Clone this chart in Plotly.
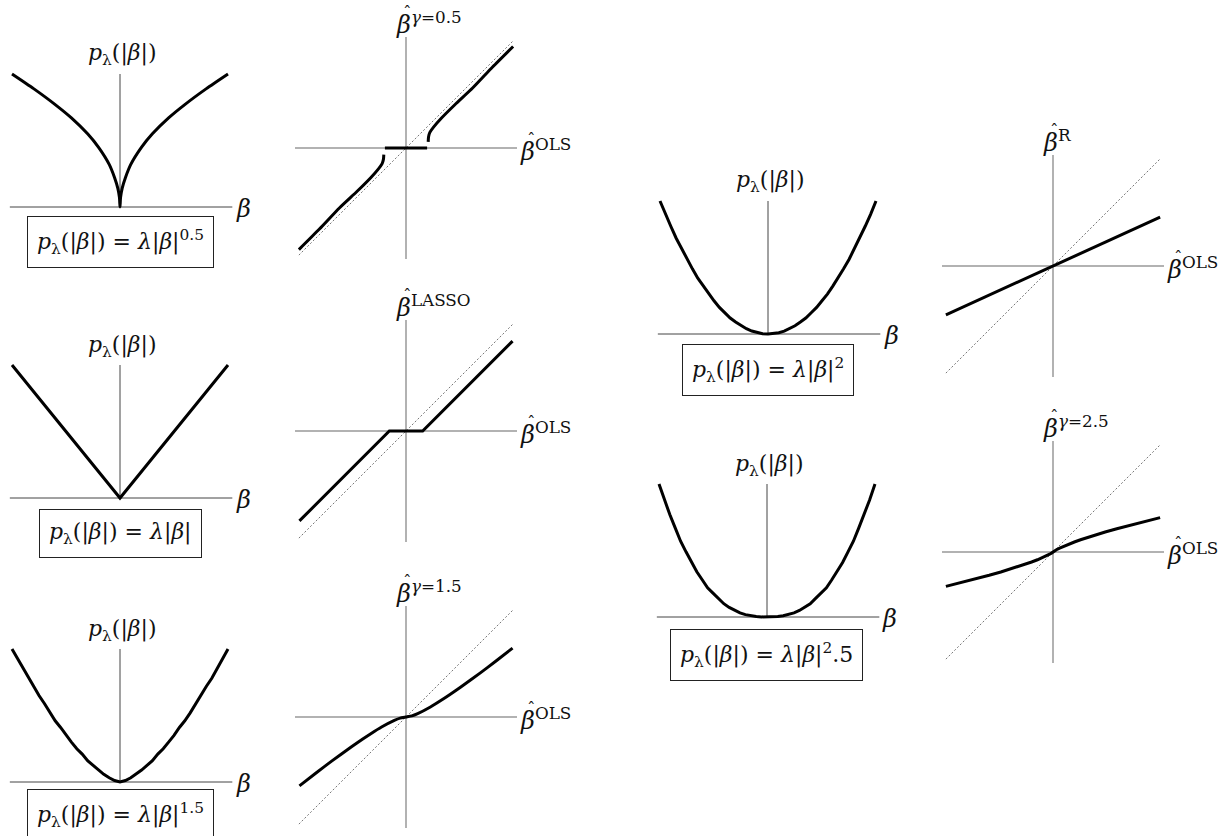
import plotly.graph_objects as go

# ---------------------------------------------------------------------------
# Penalty functions p_lambda(|beta|) (x: beta, y: penalty, normalised units)
# ---------------------------------------------------------------------------
PEN05_X = [-1.0, -0.8, -0.6, -0.45, -0.3, -0.2, -0.1, -0.05, -0.02, -0.005, 0.0,
           0.005, 0.02, 0.05, 0.1, 0.2, 0.3, 0.45, 0.6, 0.8, 1.0]
PEN05_Y = [1.0, 0.89, 0.77, 0.67, 0.55, 0.45, 0.32, 0.22, 0.14, 0.07, 0.0,
           0.07, 0.14, 0.22, 0.32, 0.45, 0.55, 0.67, 0.77, 0.89, 1.0]

PEN1_X = [-1.0, 0.0, 1.0]
PEN1_Y = [1.0, 0.0, 1.0]

PEN_GRID = [-1.0, -0.95, -0.9, -0.85, -0.8, -0.75, -0.7, -0.65, -0.6, -0.55, -0.5,
            -0.45, -0.4, -0.35, -0.3, -0.25, -0.2, -0.15, -0.1, -0.05, 0.0,
            0.05, 0.1, 0.15, 0.2, 0.25, 0.3, 0.35, 0.4, 0.45, 0.5,
            0.55, 0.6, 0.65, 0.7, 0.75, 0.8, 0.85, 0.9, 0.95, 1.0]
PEN15_Y = [1.0, 0.93, 0.85, 0.78, 0.72, 0.65, 0.59, 0.52, 0.46, 0.41, 0.35,
           0.30, 0.25, 0.21, 0.16, 0.125, 0.09, 0.058, 0.032, 0.011, 0.0,
           0.011, 0.032, 0.058, 0.09, 0.125, 0.16, 0.21, 0.25, 0.30, 0.35,
           0.41, 0.46, 0.52, 0.59, 0.65, 0.72, 0.78, 0.85, 0.93, 1.0]
PEN2_Y = [1.0, 0.90, 0.81, 0.72, 0.64, 0.56, 0.49, 0.42, 0.36, 0.30, 0.25,
          0.20, 0.16, 0.12, 0.09, 0.062, 0.04, 0.022, 0.01, 0.0025, 0.0,
          0.0025, 0.01, 0.022, 0.04, 0.062, 0.09, 0.12, 0.16, 0.20, 0.25,
          0.30, 0.36, 0.42, 0.49, 0.56, 0.64, 0.72, 0.81, 0.90, 1.0]
PEN25_Y = [1.0, 0.88, 0.77, 0.67, 0.57, 0.49, 0.41, 0.34, 0.28, 0.22, 0.18,
           0.14, 0.10, 0.072, 0.049, 0.031, 0.018, 0.009, 0.003, 0.0006, 0.0,
           0.0006, 0.003, 0.009, 0.018, 0.031, 0.049, 0.072, 0.10, 0.14, 0.18,
           0.22, 0.28, 0.34, 0.41, 0.49, 0.57, 0.67, 0.77, 0.88, 1.0]

# ---------------------------------------------------------------------------
# Estimators as functions of the OLS estimate
# ---------------------------------------------------------------------------
EST05_UP_X = [0.20, 0.203, 0.215, 0.25, 0.32, 0.44, 0.60, 0.78, 0.965]
EST05_UP_Y = [0.055, 0.10, 0.14, 0.19, 0.27, 0.39, 0.54, 0.73, 0.915]
EST05_LO_X = [-0.965, -0.78, -0.60, -0.44, -0.32, -0.25, -0.215, -0.203, -0.20]
EST05_LO_Y = [-0.915, -0.73, -0.54, -0.39, -0.27, -0.19, -0.14, -0.10, -0.06]
EST05_ZERO_X = [-0.19, 0.19]
EST05_ZERO_Y = [0.0, 0.0]

LASSO_X = [-0.96, -0.15, 0.15, 0.96]
LASSO_Y = [-0.81, 0.0, 0.0, 0.81]

EST15_X = [-0.96, -0.805, -0.673, -0.494, -0.393, -0.317, -0.22, -0.105, -0.053, 0.0,
           0.053, 0.105, 0.22, 0.317, 0.393, 0.494, 0.673, 0.805, 0.96]
EST15_Y = [-0.62, -0.50, -0.40, -0.27, -0.20, -0.15, -0.09, -0.03, -0.01, 0.0,
           0.01, 0.03, 0.09, 0.15, 0.20, 0.27, 0.40, 0.50, 0.62]

RIDGE_X = [-0.965, 0.965]
RIDGE_Y = [-0.44, 0.44]

EST25_X = [-0.965, -0.802, -0.686, -0.575, -0.47, -0.387, -0.308, -0.248, -0.1925,
           -0.14, -0.092, -0.06, -0.0307, -0.0138, 0.0, 0.0138, 0.0307, 0.06, 0.092,
           0.14, 0.1925, 0.248, 0.308, 0.387, 0.47, 0.575, 0.686, 0.802, 0.965]
EST25_Y = [-0.31, -0.27, -0.24, -0.21, -0.18, -0.155, -0.13, -0.11, -0.09,
           -0.07, -0.05, -0.035, -0.02, -0.01, 0.0, 0.01, 0.02, 0.035, 0.05,
           0.07, 0.09, 0.11, 0.13, 0.155, 0.18, 0.21, 0.24, 0.27, 0.31]

# Reference axes and the 45-degree line
PEN_HAXIS = [-1.02, 1.04]
PEN_VAXIS = [0.0, 1.0]
EST_AXIS = [-1.0, 1.0]
DIAG = [-0.965, 0.965]

# Labels
HAT = "ˆ"
PEN_LABEL = "<i>p</i><sub>λ</sub>(|<i>β</i>|)"
BETA_LABEL = "<i>β</i>"
OLS_LABEL = "<i>β</i><sup>OLS</sup>"
PEN_FORMULAS = [
    "<i>p</i><sub>λ</sub>(|<i>β</i>|) = <i>λ</i>|<i>β</i>|<sup>0.5</sup>",
    "<i>p</i><sub>λ</sub>(|<i>β</i>|) = <i>λ</i>|<i>β</i>|",
    "<i>p</i><sub>λ</sub>(|<i>β</i>|) = <i>λ</i>|<i>β</i>|<sup>1.5</sup>",
    "<i>p</i><sub>λ</sub>(|<i>β</i>|) = <i>λ</i>|<i>β</i>|<sup>2</sup>",
    "<i>p</i><sub>λ</sub>(|<i>β</i>|) = <i>λ</i>|<i>β</i>|<sup>2</sup>.5",
]
EST_TITLES = [
    "<i>β</i><sup><i>γ</i>=0.5</sup>",
    "<i>β</i><sup>LASSO</sup>",
    "<i>β</i><sup><i>γ</i>=1.5</sup>",
    "<i>β</i><sup>R</sup>",
    "<i>β</i><sup><i>γ</i>=2.5</sup>",
]

# ---------------------------------------------------------------------------
# Layout of the panels (pixel positions of each origin)
# ---------------------------------------------------------------------------
W, H = 1230, 836
FONT = "DejaVu Serif, Liberation Serif, serif"
PEN_ORIGINS = [(120, 207), (120, 498), (120, 782), (768, 334), (767, 617)]
PEN_BOX_DY = [35, 35, 33, 36, 38]
EST_ORIGINS = [(406, 148), (406, 431), (406, 717), (1053, 266), (1053, 552)]
PEN_SX, PEN_SY = 108.0, 133.0
EST_S = 111.0

fig = go.Figure()
layout = dict(width=W, height=H, margin=dict(l=0, r=0, t=0, b=0),
              paper_bgcolor="white", plot_bgcolor="white", showlegend=False)
annotations = []
panel = [0]


def new_axes(ox, oy, sx, sy, left, right, top, bottom):
    panel[0] += 1
    i = panel[0]
    sfx = "" if i == 1 else str(i)
    layout["xaxis" + sfx] = dict(
        domain=[(ox + left) / W, (ox + right) / W],
        range=[left / sx, right / sx], visible=False, fixedrange=True,
        anchor="y" + sfx)
    layout["yaxis" + sfx] = dict(
        domain=[(H - (oy + bottom)) / H, (H - (oy + top)) / H],
        range=[-bottom / sy, -top / sy], visible=False, fixedrange=True,
        anchor="x" + sfx)
    return "x" + sfx, "y" + sfx


def line(xa, ya, x, y, color, width, dash="solid", shape="linear"):
    fig.add_trace(go.Scatter(x=x, y=y, mode="lines", xaxis=xa, yaxis=ya,
                             line=dict(color=color, width=width, dash=dash,
                                       shape=shape, smoothing=0.6),
                             hoverinfo="skip"))


def text(xa, ya, x, y, s, size, xanchor="center", box=False, dx=0, dy=0):
    a = dict(x=x, y=y, xref=xa, yref=ya, text=s, showarrow=False,
             xanchor=xanchor, yanchor="middle", xshift=dx, yshift=dy,
             font=dict(family=FONT, size=size, color="#111"))
    if box:
        a.update(bordercolor="#222", borderwidth=1, borderpad=9, bgcolor="white")
    annotations.append(a)


def hat_label(xa, ya, x, y, s, size):
    # beta followed by its superscript, with a circumflex set over the beta
    text(xa, ya, x, y, s, size, xanchor="left")
    text(xa, ya, x, y, HAT, 17, xanchor="left", dx=7, dy=11)


pen_curves = [(PEN05_X, PEN05_Y, "spline"), (PEN1_X, PEN1_Y, "linear"),
              (PEN_GRID, PEN15_Y, "linear"), (PEN_GRID, PEN2_Y, "linear"),
              (PEN_GRID, PEN25_Y, "linear")]

for k, ((ox, oy), (cx, cy, shp)) in enumerate(zip(PEN_ORIGINS, pen_curves)):
    xa, ya = new_axes(ox, oy, PEN_SX, PEN_SY, -118, 140, -165, 50)
    line(xa, ya, PEN_HAXIS, [0, 0], "#444", 1)
    line(xa, ya, [0, 0], PEN_VAXIS, "#444", 1)
    line(xa, ya, cx, cy, "black", 3, shape=shp)
    text(xa, ya, 0.02, 152 / PEN_SY, PEN_LABEL, 22)
    text(xa, ya, 123 / PEN_SX, -2 / PEN_SY, BETA_LABEL, 24)
    text(xa, ya, 0.0, -PEN_BOX_DY[k] / PEN_SY, PEN_FORMULAS[k], 22, box=True)

est_curves = [
    [(EST05_UP_X, EST05_UP_Y, "spline"), (EST05_LO_X, EST05_LO_Y, "spline"),
     (EST05_ZERO_X, EST05_ZERO_Y, "linear")],
    [(LASSO_X, LASSO_Y, "linear")],
    [(EST15_X, EST15_Y, "spline")],
    [(RIDGE_X, RIDGE_Y, "linear")],
    [(EST25_X, EST25_Y, "linear")],
]

for k, ((ox, oy), curves) in enumerate(zip(EST_ORIGINS, est_curves)):
    xa, ya = new_axes(ox, oy, EST_S, EST_S, -115, 170, -145, 118)
    line(xa, ya, EST_AXIS, [0, 0], "#999", 1.5)
    line(xa, ya, [0, 0], EST_AXIS, "#999", 1.5)
    line(xa, ya, DIAG, DIAG, "#777", 1, dash="2px,2px")
    for cx, cy, shp in curves:
        line(xa, ya, cx, cy, "black", 3, shape=shp)
    hat_label(xa, ya, -12 / EST_S, 125 / EST_S, EST_TITLES[k], 24)
    hat_label(xa, ya, 112 / EST_S, -2 / EST_S, OLS_LABEL, 24)

layout["annotations"] = annotations
fig.update_layout(**layout)
fig.write_html("out.html")
